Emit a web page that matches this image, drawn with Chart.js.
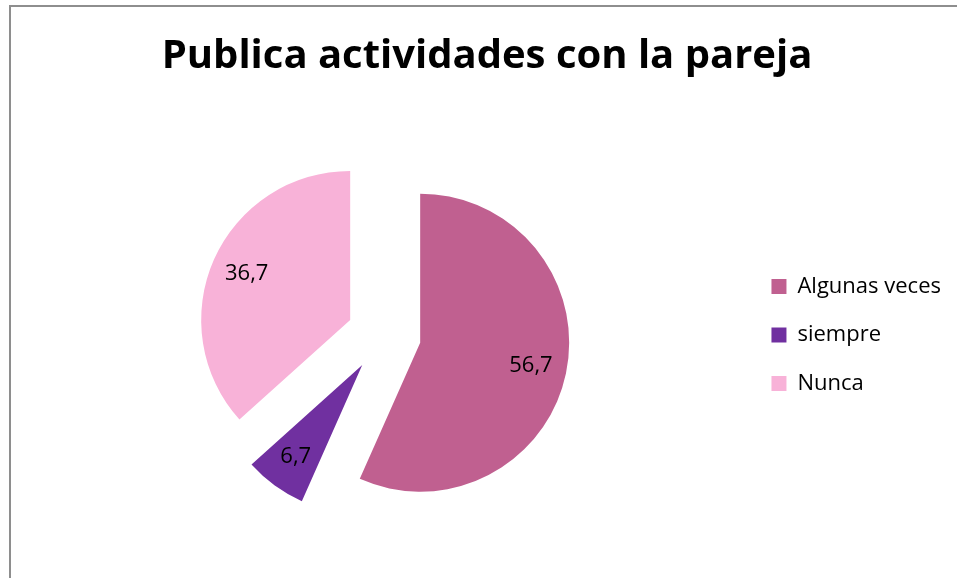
<!DOCTYPE html>
<html>
<head>
<meta charset="utf-8">
<script src="https://cdn.jsdelivr.net/npm/chart.js@4.4.0/dist/chart.umd.min.js"></script>
<style>
  body { margin: 0; background: #fff; }
  #frame { position: absolute; left: 9px; top: 5px; width: 960px; height: 600px; border: 2px solid #8e8e8e; }
  #wrap { position: absolute; left: 0; top: 0; width: 957px; height: 578px; }
</style>
</head>
<body>
<div id="frame"></div>
<div id="wrap"><canvas id="myChart"></canvas></div>
<script>
const titleText = 'Publica actividades con la pareja';
const categories = ['Algunas veces', 'siempre', 'Nunca'];
const values = [56.7, 6.7, 36.7];
const colors = ['#C06090', '#7030A0', '#F8B2D8'];

// distance each slice is pulled out of the pie
const explode = 37;

const explodePlugin = {
  id: 'explode',
  beforeDatasetDraw(chart, args) {
    const ctx = chart.ctx;
    args.meta.data.forEach(arc => {
      const mid = (arc.startAngle + arc.endAngle) / 2;
      ctx.save();
      ctx.translate(Math.cos(mid) * explode, Math.sin(mid) * explode);
      arc.draw(ctx, chart.chartArea);
      ctx.restore();
    });
    return false;
  },
  afterDatasetsDraw(chart) {
    const ctx = chart.ctx;
    const meta = chart.getDatasetMeta(0);
    ctx.save();
    ctx.font = '22px "Open Sans"';
    ctx.fillStyle = '#000';
    ctx.textAlign = 'center';
    ctx.textBaseline = 'middle';
    meta.data.forEach((arc, i) => {
      const mid = (arc.startAngle + arc.endAngle) / 2;
      const dist = explode + arc.outerRadius * 0.76;
      const txt = values[i].toFixed(1).replace('.', ',');
      ctx.fillText(txt, arc.x + Math.cos(mid) * dist, arc.y + Math.sin(mid) * dist);
    });
    ctx.restore();
  }
};

const ctx = document.getElementById('myChart').getContext('2d');
const myChart = new Chart(ctx, {
  type: 'pie',
  data: {
    labels: categories,
    datasets: [{
      data: values,
      backgroundColor: colors,
      borderWidth: 0
    }]
  },
  options: {
    responsive: true,
    maintainAspectRatio: false,
    animation: false,
    layout: {
      padding: { left: 23, right: 6, top: 0, bottom: 94 }
    },
    plugins: {
      title: {
        display: true,
        text: titleText,
        color: '#000',
        font: { family: '"Open Sans"', size: 40, weight: 'bold', lineHeight: 1.2 },
        padding: { top: 33, bottom: 105 }
      },
      legend: {
        position: 'right',
        fullSize: false,
        labels: {
          color: '#000',
          boxWidth: 15,
          boxHeight: 15,
          padding: 26.5,
          font: { family: '"Open Sans"', size: 22 }
        }
      },
      tooltip: { enabled: false }
    }
  },
  plugins: [explodePlugin]
});
</script>
</body>
</html>
